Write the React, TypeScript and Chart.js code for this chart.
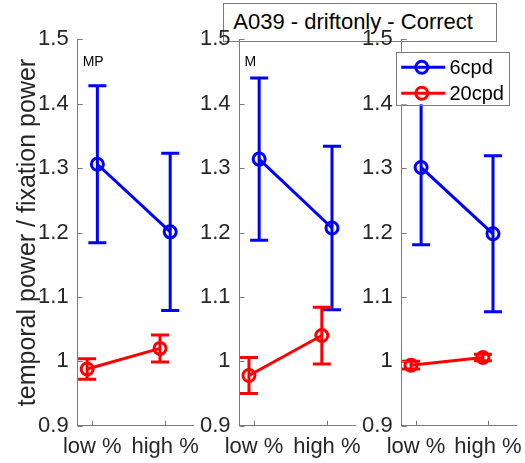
import React, { useEffect, useRef } from 'react';
import { Chart, registerables } from 'chart.js';

Chart.register(...registerables);

// ---------- data ----------
const CATEGORIES = ['low %', 'high %'];
const SERIES_LABELS = ['6cpd', '20cpd'];
const PANEL_LABELS = ['MP', 'M', ''];
const Y_TICK_VALUES = [0.9, 1.0, 1.1, 1.2, 1.3, 1.4, 1.5];
const Y_TICK_LABELS = ['0.9', '1', '1.1', '1.2', '1.3', '1.4', '1.5'];
const Y_AXIS_TITLE = 'temporal power / fixation power';
const FIGURE_TITLE = 'A039 - driftonly - Correct';

// one row per panel: [low %, high %]
const MEAN_6CPD = [
  [1.306, 1.201],
  [1.314, 1.207],
  [1.301, 1.198],
];
const ERR_6CPD = [
  [0.122, 0.122],
  [0.126, 0.127],
  [0.12, 0.121],
];
const MEAN_20CPD = [
  [0.988, 1.02],
  [0.978, 1.04],
  [0.994, 1.006],
];
const ERR_20CPD = [
  [0.016, 0.021],
  [0.028, 0.044],
  [0.006, 0.005],
];

// ---------- layout / style ----------
const W = 525;
const H = 463;
const FONT = '"Liberation Sans", Arial, Helvetica, sans-serif';
const TEXT_COLOR = '#262626';
const AXIS_COLOR = '#7a7a7a';
const BLUE = '#0000ff';
const RED = '#ff0000';
const PANEL_LEFT = [77.7, 239.5, 401.7];
const PANEL_WIDTH = 115.8;
const PLOT_TOP = 39.3;
const PLOT_BOTTOM = 425.7;
const X_MIN = 0.8;
const X_MAX = 2.39;
const DODGE = 0.07;
const TICK_LEN = 5;
const CAP_HALF = 9;

Chart.defaults.font.family = FONT;

const errorBarPlugin = {
  id: 'errorBars',
  afterDatasetsDraw(chart: any) {
    const { ctx, scales } = chart;
    const xs = scales.x;
    const ys = scales.y;
    ctx.save();
    chart.data.datasets.forEach((ds: any) => {
      ctx.strokeStyle = ds.borderColor;
      ctx.lineWidth = 3;
      ctx.lineCap = 'butt';
      ds.data.forEach((pt: any, i: number) => {
        const e = ds.errors[i];
        const px = xs.getPixelForValue(pt.x);
        const pTop = ys.getPixelForValue(pt.y + e);
        const pBot = ys.getPixelForValue(pt.y - e);
        ctx.beginPath();
        ctx.moveTo(px, pTop);
        ctx.lineTo(px, pBot);
        ctx.moveTo(px - CAP_HALF, pTop);
        ctx.lineTo(px + CAP_HALF, pTop);
        ctx.moveTo(px - CAP_HALF, pBot);
        ctx.lineTo(px + CAP_HALF, pBot);
        ctx.stroke();
      });
    });
    ctx.restore();
  },
};

const innerTicksPlugin = {
  id: 'innerTicks',
  afterDraw(chart: any) {
    const { ctx, chartArea, scales } = chart;
    const xs = scales.x;
    const ys = scales.y;
    ctx.save();
    ctx.strokeStyle = AXIS_COLOR;
    ctx.lineWidth = 1;
    ctx.beginPath();
    ys.ticks.forEach((t: any) => {
      const py = Math.round(ys.getPixelForValue(t.value)) + 0.5;
      ctx.moveTo(chartArea.left, py);
      ctx.lineTo(chartArea.left + TICK_LEN, py);
    });
    xs.ticks.forEach((t: any) => {
      const px = Math.round(xs.getPixelForValue(t.value)) + 0.5;
      ctx.moveTo(px, chartArea.bottom);
      ctx.lineTo(px, chartArea.bottom - TICK_LEN);
    });
    ctx.stroke();
    ctx.restore();
  },
};

const boxLegendPlugin = {
  id: 'boxLegend',
  afterDraw(chart: any) {
    const { ctx, chartArea } = chart;
    const boxW = 113.4;
    const boxH = 52.6;
    const x0 = chartArea.right - 6.8 - boxW;
    const y0 = chartArea.top + 12.4;
    ctx.save();
    ctx.fillStyle = '#ffffff';
    ctx.fillRect(x0, y0, boxW, boxH);
    ctx.strokeStyle = AXIS_COLOR;
    ctx.lineWidth = 1;
    ctx.strokeRect(Math.round(x0) + 0.5, Math.round(y0) + 0.5, Math.round(boxW), Math.round(boxH));
    chart.data.datasets.forEach((ds: any, i: number) => {
      const cy = y0 + 15.6 + i * 26;
      ctx.strokeStyle = ds.borderColor;
      ctx.lineWidth = 3;
      ctx.beginPath();
      ctx.moveTo(x0 + 5.4, cy);
      ctx.lineTo(x0 + 49.4, cy);
      ctx.stroke();
      ctx.beginPath();
      ctx.arc(x0 + 26, cy, 6, 0, Math.PI * 2);
      ctx.stroke();
      ctx.fillStyle = '#000000';
      ctx.font = `20px ${FONT}`;
      ctx.textBaseline = 'middle';
      ctx.textAlign = 'left';
      ctx.fillText(ds.label, x0 + 53.7, cy + 1);
    });
    ctx.restore();
  },
};

function buildConfig(p: number): any {
  const yW = p === 0 ? PANEL_LEFT[0] : 60;
  const padL = PANEL_LEFT[p] - yW;
  const padR = W - PANEL_LEFT[p] - PANEL_WIDTH;
  const makeSeries = (label: string, color: string, means: number[], errs: number[], dodge: number) => ({
    label,
    data: means.map((m, i) => ({ x: i + 1 + dodge, y: m })),
    errors: errs,
    borderColor: color,
    backgroundColor: color,
    borderWidth: 3,
    pointRadius: 6,
    pointBorderWidth: 3,
    pointBorderColor: color,
    pointBackgroundColor: 'rgba(0,0,0,0)',
    pointStyle: 'circle',
    showLine: true,
    tension: 0,
    fill: false,
  });
  const plugins: any[] = [errorBarPlugin, innerTicksPlugin];
  if (p === 2) plugins.push(boxLegendPlugin);
  return {
    type: 'line',
    data: {
      datasets: [
        makeSeries(SERIES_LABELS[0], BLUE, MEAN_6CPD[p], ERR_6CPD[p], DODGE),
        makeSeries(SERIES_LABELS[1], RED, MEAN_20CPD[p], ERR_20CPD[p], -DODGE),
      ],
    },
    plugins,
    options: {
      responsive: false,
      maintainAspectRatio: false,
      animation: false,
      events: [],
      layout: { padding: { left: padL, right: padR, top: PLOT_TOP, bottom: 0 } },
      plugins: {
        legend: { display: false },
        tooltip: { enabled: false },
        title: { display: false },
      },
      scales: {
        x: {
          type: 'linear',
          position: 'bottom',
          min: X_MIN,
          max: X_MAX,
          grid: { display: false, drawTicks: false },
          border: { display: true, color: AXIS_COLOR, width: 1 },
          ticks: {
            font: { size: 22 },
            color: TEXT_COLOR,
            padding: 8,
            maxRotation: 0,
            minRotation: 0,
            autoSkip: false,
            callback: (v: number) => CATEGORIES[Math.round(v) - 1] ?? '',
          },
          afterBuildTicks: (s: any) => {
            s.ticks = CATEGORIES.map((_, i) => ({ value: i + 1 }));
          },
          afterFit: (s: any) => {
            s.height = H - PLOT_BOTTOM;
            s.paddingLeft = 0;
            s.paddingRight = 0;
          },
        },
        y: {
          type: 'linear',
          position: 'left',
          min: Y_TICK_VALUES[0],
          max: Y_TICK_VALUES[Y_TICK_VALUES.length - 1],
          grid: { display: false, drawTicks: false },
          border: { display: true, color: AXIS_COLOR, width: 1 },
          ticks: {
            font: { size: 22 },
            color: TEXT_COLOR,
            padding: 9,
            autoSkip: false,
            callback: (v: number) => {
              const i = Y_TICK_VALUES.findIndex((t) => Math.abs(t - v) < 1e-6);
              return i >= 0 ? Y_TICK_LABELS[i] : '';
            },
          },
          afterBuildTicks: (s: any) => {
            s.ticks = Y_TICK_VALUES.map((v) => ({ value: v }));
          },
          afterFit: (s: any) => {
            s.width = yW;
            s.paddingTop = 0;
            s.paddingBottom = 0;
          },
          title:
            p === 0
              ? {
                  display: true,
                  text: Y_AXIS_TITLE,
                  font: { size: 25 },
                  color: TEXT_COLOR,
                  padding: { top: 13, bottom: 0 },
                }
              : { display: false },
        },
      },
    },
  };
}

function Panel({ index }: { index: number }) {
  const ref = useRef<HTMLCanvasElement>(null);
  useEffect(() => {
    if (!ref.current) return;
    const chart = new Chart(ref.current, buildConfig(index));
    return () => chart.destroy();
  }, [index]);
  return (
    <canvas
      ref={ref}
      width={W}
      height={H}
      style={{ position: 'absolute', left: 0, top: 0, width: W, height: H }}
    />
  );
}

export default function App() {
  return (
    <div
      style={{
        position: 'absolute',
        left: 0,
        top: 0,
        width: W,
        height: H,
        background: '#ffffff',
        fontFamily: FONT,
        overflow: 'hidden',
      }}
    >
      <div
        style={{
          position: 'absolute',
          left: 223.3,
          top: 3.3,
          width: 273.4,
          height: 39,
          boxSizing: 'border-box',
          border: `1px solid ${AXIS_COLOR}`,
          padding: '6.4px 0 0 9px',
          fontSize: 22,
          lineHeight: '22px',
          color: '#000000',
          whiteSpace: 'nowrap',
        }}
      >
        {FIGURE_TITLE}
      </div>
      {[0, 1, 2].map((p) => (
        <Panel key={p} index={p} />
      ))}
      {PANEL_LABELS.map((lab, p) =>
        lab ? (
          <div
            key={'lab' + p}
            style={{
              position: 'absolute',
              left: PANEL_LEFT[p] + 5,
              top: 54.2,
              fontSize: 14,
              lineHeight: '14px',
              color: '#000000',
              whiteSpace: 'nowrap',
            }}
          >
            {lab}
          </div>
        ) : null
      )}
    </div>
  );
}
